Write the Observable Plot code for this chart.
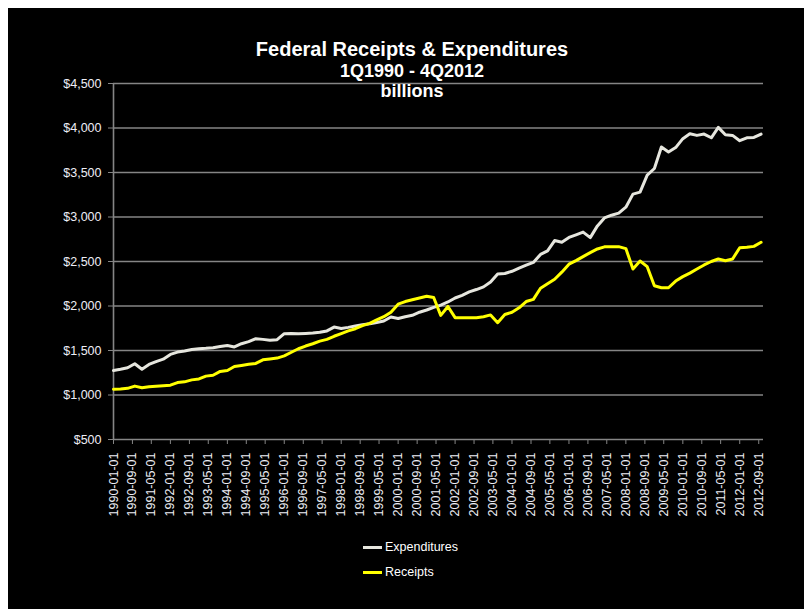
<!DOCTYPE html>
<html><head><meta charset="utf-8">
<script src="https://cdn.jsdelivr.net/npm/d3@7"></script>
<script src="https://cdn.jsdelivr.net/npm/@observablehq/plot@0.6"></script>
<style>
html,body{margin:0;padding:0;background:#fff;}
#wrap{position:absolute;left:0;top:0;width:804px;height:609px;overflow:hidden;}
#bg{position:absolute;left:8px;top:8px;right:0;bottom:0;background:#000;}
#chart{position:absolute;left:0;top:0;}
.t{position:absolute;left:0;width:824px;text-align:center;color:#fff;font-family:"Liberation Sans",Arial,sans-serif;font-weight:bold;white-space:nowrap;}
.lg{position:absolute;color:#fff;font-family:"Liberation Sans",Arial,sans-serif;font-size:12.5px;line-height:14px;white-space:nowrap;}
.sw{position:absolute;width:19px;height:3px;}
</style></head>
<body><div id="wrap"><div id="bg"></div><div id="chart"></div>
<div class="t" style="top:39px;font-size:20px;line-height:20px">Federal Receipts &amp; Expenditures</div>
<div class="t" style="top:61.5px;font-size:18px;line-height:18px">1Q1990 - 4Q2012</div>
<div class="t" style="top:81.5px;font-size:18px;line-height:18px">billions</div>
<div id="legend"></div>
</div>
<script>
const startQuarter = "1990-01-01";
const seriesNames = ["Expenditures", "Receipts"];
const seriesColors = ["#e6e6de", "#ffff00"];
const expenditures = [
 1276,1290,1306,1351, 1290,1343,1375,1403, 1456,1482,1495,1512, 1520,1525,1532,1545,
 1557,1540,1576,1600, 1633,1625,1614,1622, 1689,1690,1689,1692, 1696,1705,1720,1763,
 1748,1760,1775,1790, 1800,1815,1831,1876, 1860,1880,1895,1930, 1955,1985,2010,2045,
 2090,2120,2158,2185, 2215,2270,2360,2365, 2390,2425,2458,2490, 2580,2619,2735,2717,
 2770,2800,2830,2768, 2900,2990,3020,3043, 3110,3257,3279,3470, 3545,3786,3730,3780,
 3880,3936,3917,3932, 3890,4007,3925,3917, 3857,3890,3894,3932
];
const receipts = [
 1066,1068,1075,1100, 1082,1092,1098,1104, 1110,1140,1148,1170, 1180,1212,1222,1265,
 1276,1320,1332,1345, 1355,1395,1405,1415, 1440,1480,1520,1550, 1576,1605,1625,1660,
 1690,1720,1745,1780, 1805,1845,1880,1930, 2020,2050,2070,2090, 2110,2095,1895,1995,
 1869,1869,1869,1869, 1880,1900,1813,1905, 1930,1980,2050,2075, 2200,2250,2300,2380,
 2470,2510,2555,2600, 2641,2665,2667,2667, 2645,2416,2506,2442, 2228,2205,2205,2280,
 2330,2370,2415,2461, 2500,2528,2509,2528, 2655,2660,2670,2716
];
const tickLabels = ["1990-01-01","1990-09-01","1991-05-01","1992-01-01","1992-09-01","1993-05-01","1994-01-01","1994-09-01","1995-05-01","1996-01-01","1996-09-01","1997-05-01","1998-01-01","1998-09-01","1999-05-01","2000-01-01","2000-09-01","2001-05-01","2002-01-01","2002-09-01","2003-05-01","2004-01-01","2004-09-01","2005-05-01","2006-01-01","2006-09-01","2007-05-01","2008-01-01","2008-09-01","2009-05-01","2010-01-01","2010-09-01","2011-05-01","2012-01-01","2012-09-01"];
const yTicks = [500,1000,1500,2000,2500,3000,3500,4000,4500];
const xDomain = ["1990-01-01", "2012-11-01"];

const start = new Date(startQuarter);
const dates = expenditures.map((_, i) => d3.utcMonth.offset(start, 3 * i));
const rows = [];
dates.forEach((d, i) => {
  rows.push({date: d, value: expenditures[i], series: seriesNames[0]});
  rows.push({date: d, value: receipts[i], series: seriesNames[1]});
});
const tickDates = tickLabels.map(s => new Date(s));
const grid = "#858585";

const plot = Plot.plot({
  width: 804, height: 609,
  marginLeft: 113, marginRight: 41, marginTop: 83, marginBottom: 170,
  style: {background: "transparent", color: "#fff", fontFamily: "'Liberation Sans', Arial, sans-serif", fontSize: "12.5px"},
  x: {type: "utc", domain: xDomain.map(s => new Date(s))},
  y: {domain: [yTicks[0], yTicks[yTicks.length - 1]]},
  color: {domain: seriesNames, range: seriesColors},
  marks: [
    Plot.ruleY(yTicks, {stroke: grid, strokeWidth: 1.6}),
    Plot.ruleX([new Date(xDomain[0])], {stroke: grid, strokeWidth: 1.6}),
    Plot.axisY({ticks: yTicks, tickFormat: d => "$" + d3.format(",")(d), tickSize: 5, tickPadding: 7, stroke: grid, fill: "#eeeef6", label: null}),
    Plot.axisX({ticks: tickDates, tickFormat: d3.utcFormat("%Y-%m-%d"), tickRotate: -90, tickSize: 5, tickPadding: 8, stroke: grid, fill: "#eeeef6", label: null}),
    Plot.line(rows, {x: "date", y: "value", z: "series", stroke: "series", strokeWidth: 3, strokeLinejoin: "round"})
  ]
});
document.getElementById("chart").appendChild(plot);

const legend = document.getElementById("legend");
seriesNames.forEach((name, i) => {
  const top = 547 + 25 * i;
  const sw = document.createElement("div");
  sw.className = "sw";
  sw.style.left = "363px"; sw.style.top = (top - 1.5) + "px"; sw.style.background = seriesColors[i];
  const tx = document.createElement("div");
  tx.className = "lg";
  tx.style.left = "385px"; tx.style.top = (top - 7) + "px";
  tx.textContent = name;
  legend.appendChild(sw); legend.appendChild(tx);
});
</script>
</body></html>
